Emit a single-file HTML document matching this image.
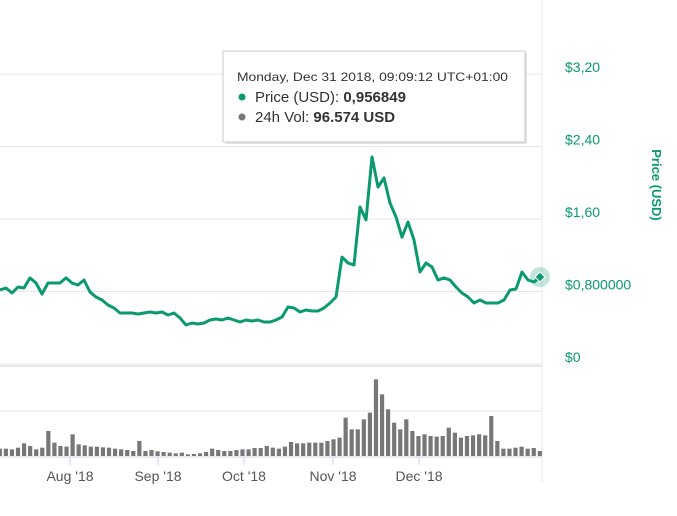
<!DOCTYPE html>
<html><head><meta charset="utf-8">
<style>
html,body{margin:0;padding:0;background:#fff;}
svg{display:block;font-family:"Liberation Sans",sans-serif;}
</style></head>
<body>
<svg id="chart" width="677" height="516" viewBox="0 0 677 516" xmlns="http://www.w3.org/2000/svg">
  <g id="grid"></g>
  <g id="vol"></g>
  <g id="price"></g>
  <g id="yaxis"></g>
  <g id="xaxis"></g>
  <text transform="translate(652,185) rotate(90)" text-anchor="middle" fill="#0a9a6e" font-size="13" font-weight="bold">Price (USD)</text>
  <g>
    <rect x="225" y="53" width="302" height="91" fill="#ccc" opacity="0.5"/>
    <rect x="223" y="51" width="302" height="91" fill="#fff" stroke="#c8c8c8"/>
    <text x="237" y="81" font-size="12" fill="#333" textLength="271" lengthAdjust="spacingAndGlyphs">Monday, Dec 31 2018, 09:09:12 UTC+01:00</text>
    <circle cx="242" cy="97" r="3.5" fill="#0a9a6e"/>
    <text x="255" y="102" font-size="15" fill="#333">Price (USD): <tspan font-weight="bold">0,956849</tspan></text>
    <circle cx="242" cy="117" r="3.5" fill="#777"/>
    <text x="255" y="122" font-size="15" fill="#333">24h Vol: <tspan font-weight="bold">96.574 USD</tspan></text>
  </g>
</svg>
<script>
const priceValues=[0.817,0.839,0.784,0.85,0.839,0.95,0.894,0.773,0.894,0.894,0.894,0.95,0.894,0.872,0.927,0.795,0.74,0.706,0.651,0.618,0.563,0.563,0.563,0.552,0.563,0.574,0.563,0.574,0.541,0.563,0.508,0.43,0.453,0.442,0.453,0.486,0.497,0.486,0.508,0.486,0.464,0.486,0.475,0.486,0.464,0.464,0.486,0.519,0.629,0.618,0.574,0.596,0.585,0.585,0.618,0.673,0.74,1.18,1.115,1.093,1.733,1.59,2.285,1.954,2.053,1.777,1.623,1.40,1.567,1.369,1.015,1.115,1.071,0.927,0.95,0.927,0.85,0.784,0.74,0.673,0.706,0.673,0.673,0.673,0.706,0.817,0.828,1.015,0.927,0.905,0.96];
const volumeValues=[22,22,20,25,38,30,20,25,75,40,30,28,65,35,32,28,28,26,25,22,20,18,15,45,15,18,14,12,10,8,10,5,6,8,12,22,18,15,15,18,20,20,24,24,30,25,22,28,42,38,38,40,40,40,45,50,55,115,80,80,110,130,230,185,140,100,80,110,75,60,65,60,58,60,85,70,55,60,62,65,62,120,45,22,22,25,28,22,24,15];
const priceTicks=[0,0.8,1.6,2.4,3.2];
const priceTickLabels=["$0","$0,800000","$1,60","$2,40","$3,20"];
const monthLabels=["Aug '18","Sep '18","Oct '18","Nov '18","Dec '18"];
const monthPositions=[70,158,244,333,419];
const NS="http://www.w3.org/2000/svg";
function el(t,a,p){const e=document.createElementNS(NS,t);for(const k in a)e.setAttribute(k,a[k]);p.appendChild(e);return e;}
const yP=v=>364-v*90.6;
const xP=i=>i*540/(priceValues.length-1);
const xV=i=>i*540/(volumeValues.length-1);
const yV=v=>456-v/3;
const grid=document.getElementById('grid');
priceTicks.forEach(t=>{const l=el('line',{x1:0,x2:542,y1:yP(t),y2:yP(t),stroke:'#e6e6e6'},grid);

});
el('line',{x1:0,x2:542,y1:411,y2:411,stroke:'#e6e6e6'},grid);
el('line',{x1:0,x2:542,y1:366,y2:366,stroke:'#e6e6e6',"stroke-width":2},grid);
el('line',{x1:542,x2:542,y1:0,y2:482,stroke:'#e6e6e6'},grid);
el('line',{x1:0,x2:542,y1:457,y2:457,stroke:'#ccd6eb'},grid);
const vol=document.getElementById('vol');
volumeValues.forEach((v,i)=>{const r=el('rect',{x:xV(i)-2.3,y:yV(v),width:4.2,height:456-yV(v),fill:'#777'},vol);

});
const pg=document.getElementById('price');
const d=priceValues.map((v,i)=>(i?'L':'M')+xP(i).toFixed(1)+','+yP(v).toFixed(1)).join(' ');
const pl=el('path',{d:d,fill:'none',stroke:'#0a9a6e','stroke-width':3,'stroke-linejoin':'round'},pg);


const li=priceValues.length-1;
const halo=el('circle',{cx:xP(li),cy:yP(priceValues[li]),r:10,fill:'#0a9a6e',opacity:0.25},pg);


const mk=el('rect',{x:xP(li)-3.5,y:yP(priceValues[li])-3.5,width:7,height:7,fill:'#0a9a6e',stroke:'#fff','stroke-width':1,transform:`rotate(45 ${xP(li)} ${yP(priceValues[li])})`},pg);


const ya=document.getElementById('yaxis');
priceTicks.forEach((t,i)=>{const tx=el('text',{x:565,y:yP(t)-2,'font-size':14,fill:'#0a9a6e'},ya);tx.textContent=priceTickLabels[i];

});
const xa=document.getElementById('xaxis');
monthLabels.forEach((m,i)=>{el('line',{x1:monthPositions[i],x2:monthPositions[i],y1:457,y2:465,stroke:'#ccd6eb'},xa);
const tx=el('text',{x:monthPositions[i],y:481,'font-size':14,fill:'#555','text-anchor':'middle'},xa);tx.textContent=m;

});
</script>
</body></html>
